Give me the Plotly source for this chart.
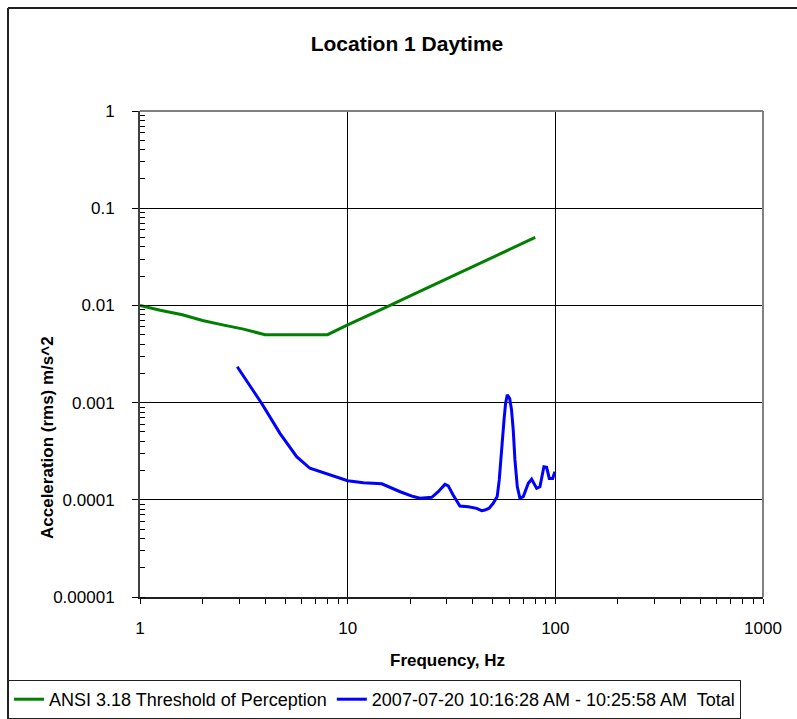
import plotly.graph_objects as go

# ANSI S3.18 base curve (1/3-octave centre frequencies, rms acceleration m/s^2)
ansi_freq = [1, 1.25, 1.6, 2, 2.5, 3.15, 4, 5, 6.3, 8, 10, 12.5, 16, 20, 25, 31.5, 40, 50, 63, 80]
ansi_accel = [0.01, 0.0089, 0.008, 0.007, 0.0063, 0.0057, 0.005, 0.005, 0.005, 0.005,
              0.0063, 0.0078, 0.01, 0.0125, 0.0156, 0.0197, 0.025, 0.0313, 0.0394, 0.05]

# Measured total spectrum, 2007-07-20 10:16:28 AM - 10:25:58 AM
meas_freq = [2.94, 3.51, 3.85, 4.72, 5.68, 6.58, 8.52, 10.0, 11.9, 14.6, 17.9, 20.7, 22.3,
             25.4, 27.3, 29.4, 30.5, 32.2, 34.7, 38.1, 41.8, 44.2, 45.8, 48.0, 50.2, 52.5,
             53.7, 55.1, 56.6, 57.6, 58.7, 60.3, 61.5, 62.7, 63.9, 65.6, 67.5, 70.1, 72.0,
             74.1, 76.9, 79.0, 81.3, 84.3, 86.5, 88.1, 90.8, 93.5, 97.1, 99.5]
meas_accel = [0.00234, 0.00135, 0.000984, 0.000483, 0.000278, 0.000211, 0.000176, 0.000157,
              0.00015, 0.000146, 0.000121, 0.000108, 0.000104, 0.000106, 0.000121, 0.000144,
              0.000139, 0.000112, 0.0000863, 0.000085, 0.0000817, 0.0000773, 0.0000785,
              0.000082, 0.000092, 0.000108, 0.00016, 0.000352, 0.000662, 0.00098, 0.0012,
              0.0011, 0.00085, 0.000523, 0.000257, 0.000136, 0.000104, 0.000108, 0.000128,
              0.000148, 0.000163, 0.000145, 0.000131, 0.000136, 0.00018, 0.000219, 0.000216,
              0.000166, 0.000166, 0.000195]

x_tick_vals = [1, 10, 100, 1000]
x_tick_text = ["1", "10", "100", "1000"]
y_tick_vals = [1, 0.1, 0.01, 0.001, 0.0001, 0.00001]
y_tick_text = ["1", "0.1", "0.01", "0.001", "0.0001", "0.00001"]

FONT = "Liberation Sans, Arial, sans-serif"

# plot-area geometry in pixels, used to place paper-referenced decorations
W, H = 797, 719
L, R, T, B = 140, 763, 111, 597


def px_x(p):
    return (p - L) / (R - L)


def px_y(p):
    return (B - p) / (B - T)


fig = go.Figure()
fig.add_trace(go.Scatter(x=ansi_freq, y=ansi_accel, mode="lines",
                         name="ANSI 3.18 Threshold of Perception",
                         line=dict(color="#008000", width=3)))
fig.add_trace(go.Scatter(x=meas_freq, y=meas_accel, mode="lines",
                         name="2007-07-20 10:16:28 AM - 10:25:58 AM  Total",
                         line=dict(color="#0000FF", width=3)))

fig.update_xaxes(type="log", range=[0, 3], tickvals=x_tick_vals, ticktext=x_tick_text,
                 showgrid=True, gridcolor="black", gridwidth=1,
                 showline=True, linecolor="#202020", linewidth=2,
                 ticks="outside", ticklen=5, tickcolor="black",
                 minor=dict(ticks="outside", ticklen=5, tickcolor="black", dtick="D1", showgrid=False),
                 tickfont=dict(size=17, color="black", family=FONT), ticklabelstandoff=10,
                 zeroline=False)
fig.update_yaxes(type="log", range=[-5, 0], tickvals=y_tick_vals, ticktext=y_tick_text,
                 showgrid=True, gridcolor="black", gridwidth=1,
                 showline=True, linecolor="#404040", linewidth=2,
                 ticks="outside", ticklen=6, tickcolor="black",
                 minor=dict(ticks="inside", ticklen=5, tickcolor="black", dtick="D1", showgrid=False),
                 tickfont=dict(size=17, color="black", family=FONT), ticklabelstandoff=14,
                 zeroline=False)

shapes = [
    # grey plot-area border, top and right
    dict(type="line", xref="paper", yref="paper", x0=0, x1=1, y0=1, y1=1,
         line=dict(color="#808080", width=2), layer="above"),
    dict(type="line", xref="paper", yref="paper", x0=1, x1=1, y0=0, y1=1,
         line=dict(color="#808080", width=2), layer="above"),
    # outer chart frame
    dict(type="line", xref="paper", yref="paper", x0=px_x(8), x1=px_x(8),
         y0=px_y(H + 10), y1=px_y(8), line=dict(color="#202020", width=2)),
    dict(type="line", xref="paper", yref="paper", x0=px_x(8), x1=px_x(W + 10),
         y0=px_y(8), y1=px_y(8), line=dict(color="#202020", width=2)),
]

annotations = [
    dict(text="Frequency, Hz", xref="paper", yref="paper", x=px_x(447), y=px_y(660),
         xanchor="center", yanchor="middle", showarrow=False,
         font=dict(size=17, weight="bold", color="black", family=FONT)),
    dict(text="Acceleration (rms) m/s^2", xref="paper", yref="paper", x=px_x(47), y=px_y(438),
         xanchor="center", yanchor="middle", textangle=-90, showarrow=False,
         font=dict(size=17, weight="bold", color="black", family=FONT)),
]

fig.update_layout(
    width=W, height=H,
    margin=dict(l=L, r=W - R, t=T, b=H - B, autoexpand=False),
    paper_bgcolor="white", plot_bgcolor="white",
    font=dict(family=FONT, color="black"),
    title=dict(text="Location 1 Daytime", x=407 / W, xanchor="center",
               y=1 - 44 / H, yanchor="middle", xref="container", yref="container",
               font=dict(size=21, weight="bold", color="black", family=FONT)),
    showlegend=True,
    legend=dict(orientation="h", x=px_x(8), xanchor="left", y=px_y(680), yanchor="top",
                bordercolor="#202020", borderwidth=1, bgcolor="white",
                font=dict(size=18, color="black", family=FONT)),
    shapes=shapes,
    annotations=annotations,
)

fig.write_html("out.html")
